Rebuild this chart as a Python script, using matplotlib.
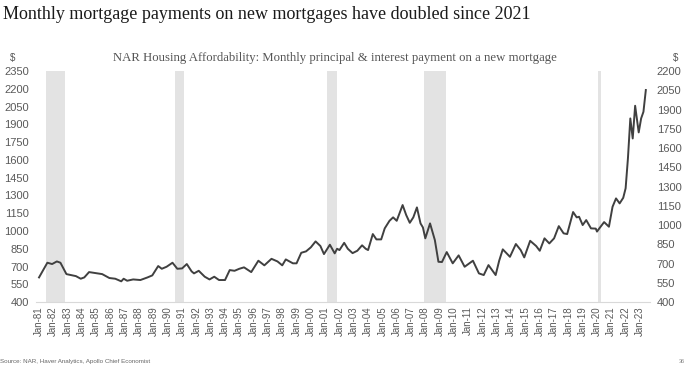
import pandas as pd
import matplotlib
matplotlib.use("Agg")
import matplotlib.pyplot as plt
import matplotlib.dates as mdates

# NAR monthly principal & interest payment ($)
dates = [
    "1981-01", "1981-08", "1981-12", "1982-04", "1982-07", "1982-12", "1983-05", "1983-08",
    "1983-12", "1984-03", "1984-07", "1985-02", "1985-06", "1985-12", "1986-05", "1986-10",
    "1986-12", "1987-03", "1987-08", "1988-02", "1988-08", "1988-12", "1989-05", "1989-08",
    "1989-12", "1990-05", "1990-09", "1991-01", "1991-05", "1991-09", "1991-11", "1992-03",
    "1992-08", "1992-12", "1993-04", "1993-08", "1994-01", "1994-05", "1994-09", "1995-01",
    "1995-05", "1995-11", "1996-05", "1996-10", "1997-04", "1997-09", "1998-01", "1998-04",
    "1998-10", "1999-01", "1999-05", "1999-09", "2000-01", "2000-05", "2000-09", "2000-12",
    "2001-05", "2001-09", "2001-11", "2002-01", "2002-05", "2002-08", "2002-12", "2003-04",
    "2003-08", "2003-11", "2004-01", "2004-05", "2004-08", "2004-12", "2005-03", "2005-07",
    "2005-10", "2006-01", "2006-06", "2006-09", "2006-12", "2007-03", "2007-06", "2007-09",
    "2007-11", "2008-01", "2008-05", "2008-09", "2008-12", "2009-03", "2009-07", "2009-12",
    "2010-05", "2010-10", "2011-05", "2011-10", "2012-02", "2012-06", "2012-12", "2013-03",
    "2013-06", "2013-12", "2014-05", "2014-09", "2014-12", "2015-05", "2015-10", "2016-01",
    "2016-05", "2016-09", "2017-01", "2017-05", "2017-09", "2017-12", "2018-05", "2018-08",
    "2018-10", "2019-01", "2019-04", "2019-08", "2019-12", "2020-01", "2020-03", "2020-07",
    "2020-11", "2021-02", "2021-05", "2021-08", "2021-11", "2022-01", "2022-03", "2022-05",
    "2022-07", "2022-09", "2022-12", "2023-02", "2023-04", "2023-06",
]
payment = [
    608, 732, 721, 743, 732, 636, 625, 619,
    597, 608, 653, 642, 636, 603, 597, 575,
    597, 580, 591, 586, 608, 625, 704, 681,
    698, 732, 681, 684, 721, 659, 642, 664,
    614, 591, 614, 586, 586, 670, 664, 681,
    693, 653, 749, 710, 765, 743, 710, 760,
    727, 727, 816, 828, 862, 912, 873, 805,
    884, 811, 850, 839, 900, 850, 813, 833,
    879, 850, 839, 974, 929, 929, 1022, 1086,
    1115, 1086, 1219, 1134, 1069, 1115, 1199, 1064,
    1030, 938, 1064, 923, 740, 738, 822, 727,
    794, 698, 749, 642, 628, 712, 628, 749,
    845, 782, 890, 839, 777, 917, 873, 833,
    938, 895, 938, 1041, 980, 974, 1160, 1115,
    1120, 1050, 1092, 1022, 1020, 995, 1022, 1075,
    1036, 1204, 1275, 1233, 1280, 1360, 1613, 1950,
    1781, 2057, 1832, 1950, 2006, 2190,
]

# NBER recessions
rec_start = ["1981-07", "1990-07", "2001-03", "2007-12", "2020-02"]
rec_end = ["1982-11", "1991-03", "2001-11", "2009-06", "2020-04"]

left_ticks = list(range(400, 2351, 150))
right_ticks = list(range(400, 2201, 150))
years = list(range(1981, 2024))

tick_color = "#595959"

fig = plt.figure(figsize=(6.92, 3.72), dpi=100)
ax = fig.add_axes([0.052, 0.188, 0.887, 0.621])

for s, e in zip(rec_start, rec_end):
    ax.axvspan(pd.Timestamp(s), pd.Timestamp(e), color="#e3e3e3", lw=0, zorder=0)

ax.plot(pd.to_datetime(dates), payment, color="#404040", lw=1.4, zorder=3)

ax.set_ylim(400, 2350)
ax.set_yticks(left_ticks)
ax.set_xlim(pd.Timestamp("1980-10-15"), pd.Timestamp("2023-09-10"))
ax.set_xticks([pd.Timestamp(f"{y}-01-01") for y in years])
ax.xaxis.set_major_formatter(mdates.DateFormatter("%b-%y"))

for sp in ["top", "right", "left"]:
    ax.spines[sp].set_visible(False)
ax.spines["bottom"].set_color("#d9d9d9")
ax.tick_params(axis="x", length=0, pad=3, labelsize=7, labelcolor=tick_color, rotation=90)
ax.tick_params(axis="y", length=0, pad=5, labelsize=8, labelcolor=tick_color)

ax2 = ax.twinx()
ax2.set_ylim(400, 2200)
ax2.set_yticks(right_ticks)
for sp in ax2.spines.values():
    sp.set_visible(False)
ax2.tick_params(axis="y", length=0, pad=5, labelsize=8, labelcolor=tick_color)

for a in (ax, ax2):
    for lbl in a.get_xticklabels() + a.get_yticklabels():
        lbl.set_fontfamily("Liberation Sans")

fig.text(0.004, 0.985, "Monthly mortgage payments on new mortgages have doubled since 2021",
         ha="left", va="top", fontsize=13, family="Liberation Serif", color="#1a1a1a")
fig.text(0.484, 0.845, "NAR Housing Affordability: Monthly principal & interest payment on a new mortgage",
         ha="center", va="center", fontsize=9.2, family="Liberation Serif", color="#555555")
fig.text(0.014, 0.845, "$", ha="left", va="center", fontsize=7, color=tick_color,
         family="Liberation Sans")
fig.text(0.972, 0.845, "$", ha="left", va="center", fontsize=7, color=tick_color,
         family="Liberation Sans")
fig.text(0.0, 0.027, "Source: NAR, Haver Analytics, Apollo Chief Economist", ha="left",
         va="center", fontsize=4.5, color="#666666", family="Liberation Sans")
fig.text(0.985, 0.027, "36", ha="center", va="center", fontsize=4, color="#888888",
         family="Liberation Sans")

fig.savefig("out.png", dpi=100)
